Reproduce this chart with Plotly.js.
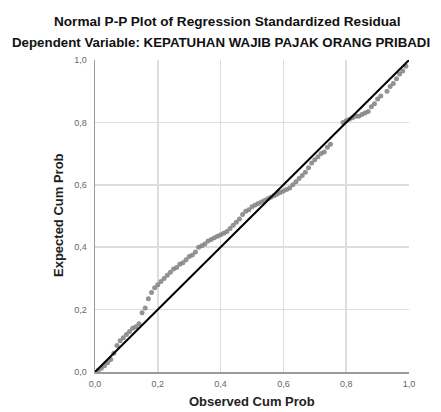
<!DOCTYPE html>
<html>
<head>
<meta charset="utf-8">
<script src="https://cdn.plot.ly/plotly-3.0.1.min.js"></script>
<style>html,body{margin:0;padding:0;background:#fff;}#chart{width:441px;height:412px;}</style>
</head>
<body>
<div id="chart"></div>
<script>
// Observed cumulative probability (x) and expected cumulative probability (y)
const observedCumProb = [0.01,0.02,0.03,0.04,0.05,0.06,0.07,0.08,0.09,0.10,0.11,0.12,0.13,0.14,0.15,0.16,0.17,0.18,0.19,0.20,
  0.21,0.22,0.23,0.24,0.25,0.26,0.27,0.28,0.29,0.30,0.31,0.32,0.33,0.34,0.35,0.36,0.37,0.38,0.39,0.40,
  0.41,0.42,0.43,0.44,0.45,0.46,0.47,0.48,0.49,0.50,0.51,0.52,0.53,0.54,0.55,0.56,0.57,0.58,0.59,0.60,
  0.61,0.62,0.63,0.64,0.65,0.66,0.67,0.68,0.69,0.70,0.71,0.72,0.73,0.74,0.75,0.79,0.80,0.81,0.82,0.83,
  0.84,0.85,0.86,0.87,0.88,0.89,0.90,0.91,0.93,0.94,0.95,0.96,0.97,0.98,0.99];
const expectedCumProb = [0.005,0.012,0.02,0.03,0.04,0.06,0.085,0.10,0.11,0.12,0.13,0.14,0.145,0.155,0.19,0.205,0.235,0.255,0.27,0.28,
  0.29,0.30,0.31,0.32,0.33,0.335,0.345,0.35,0.36,0.37,0.375,0.385,0.40,0.405,0.41,0.42,0.425,0.43,0.435,0.44,
  0.445,0.45,0.46,0.47,0.48,0.49,0.505,0.515,0.52,0.53,0.535,0.54,0.545,0.55,0.555,0.56,0.565,0.57,0.575,0.58,
  0.585,0.59,0.60,0.61,0.62,0.63,0.64,0.655,0.67,0.68,0.69,0.70,0.705,0.72,0.73,0.80,0.805,0.81,0.815,0.82,
  0.82,0.825,0.83,0.835,0.85,0.86,0.875,0.885,0.90,0.915,0.925,0.94,0.955,0.965,0.98];
const refLineX = [0, 1];
const refLineY = [0, 1];
const tickVals = [0, 0.2, 0.4, 0.6, 0.8, 1.0];

const font = "Liberation Sans, Arial, sans-serif";

const traces = [
  {x: observedCumProb, y: expectedCumProb, type: 'scatter', mode: 'markers',
   marker: {color: '#808080', size: 5, opacity: 0.85}, hoverinfo: 'none'},
  {x: refLineX, y: refLineY, type: 'scatter', mode: 'lines',
   line: {color: '#000', width: 2}, hoverinfo: 'none'}
];

const axisCommon = {
  range: [0, 1], tickvals: tickVals, tickformat: '.1f',
  showgrid: true, gridcolor: '#dddddd', gridwidth: 1.5,
  zeroline: false, showline: true, linecolor: '#9a9a9a', linewidth: 1.5,
  ticks: '', tickfont: {family: font, size: 9, color: '#666'},
  fixedrange: true
};

const layout = {
  width: 441, height: 412,
  margin: {l: 95, r: 32, t: 60, b: 40},
  paper_bgcolor: '#fff', plot_bgcolor: '#fff',
  separators: ',.',
  showlegend: false,
  xaxis: Object.assign({}, axisCommon, {ticklabelstandoff: 3}),
  yaxis: Object.assign({}, axisCommon, {ticklabelstandoff: 5}),
  annotations: [
    {text: '<b>Normal P-P Plot of Regression Standardized Residual</b>', xref: 'paper', yref: 'paper',
     x: (227-95)/314, y: (372-21)/312, xanchor: 'center', yanchor: 'middle', showarrow: false,
     font: {family: font, size: 13.6, color: '#111'}},
    {text: '<b>Dependent Variable: KEPATUHAN WAJIB PAJAK ORANG PRIBADI</b>', xref: 'paper', yref: 'paper',
     x: (10-95)/314, y: (372-43)/312, xanchor: 'left', yanchor: 'middle', showarrow: false,
     font: {family: font, size: 13.3, color: '#111'}},
    {text: '<b>Observed Cum Prob</b>', xref: 'paper', yref: 'paper',
     x: 0.5, y: (372-401)/312, xanchor: 'center', yanchor: 'middle', showarrow: false,
     font: {family: font, size: 13, color: '#222'}},
    {text: '<b>Expected Cum Prob</b>', xref: 'paper', yref: 'paper', textangle: -90,
     x: (58-95)/314, y: (372-215)/312, xanchor: 'center', yanchor: 'middle', showarrow: false,
     font: {family: font, size: 13, color: '#222'}}
  ]
};

Plotly.newPlot('chart', traces, layout, {staticPlot: true, displayModeBar: false});
</script>
</body>
</html>
